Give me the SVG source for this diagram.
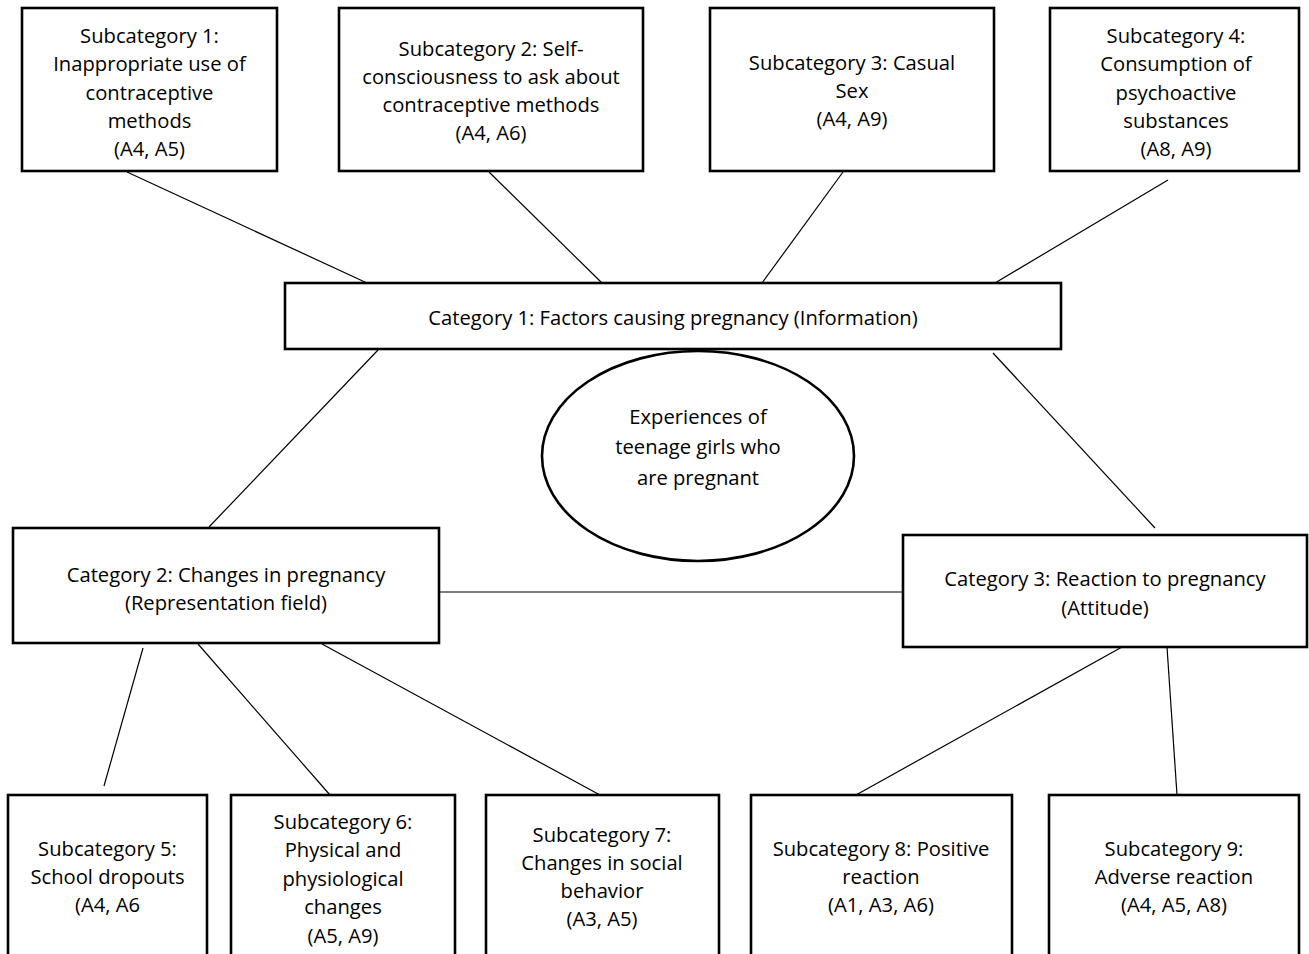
<svg xmlns="http://www.w3.org/2000/svg" width="1309" height="954" viewBox="0 0 1309 954">
<style>
.box{fill:#fff;stroke:#000;stroke-width:2.6}
.ell{fill:#fff;stroke:#000;stroke-width:2.6}
.c line{stroke:#000;stroke-width:1.2}
text{font-family:"Open Sans","Noto Sans","DejaVu Sans",sans-serif;font-size:20.2px;fill:#000;text-anchor:middle}
</style>
<rect width="1309" height="954" fill="#fff"/>
<g class="c" id="connectors">
<line x1="127" y1="172" x2="367" y2="283"/>
<line x1="489" y1="172" x2="602" y2="283"/>
<line x1="843" y1="172" x2="762" y2="283"/>
<line x1="1168" y1="180" x2="995" y2="283"/>
<line x1="378" y1="350" x2="209" y2="527"/>
<line x1="993" y1="353" x2="1155" y2="528"/>
<line x1="439" y1="592" x2="903" y2="592"/>
<line x1="143" y1="648" x2="104" y2="786"/>
<line x1="198" y1="644" x2="330" y2="795"/>
<line x1="322" y1="644" x2="600" y2="795"/>
<line x1="1122" y1="647" x2="856" y2="795"/>
<line x1="1167" y1="647" x2="1177" y2="795"/>
</g>
<g id="sub1">
<rect class="box" x="22" y="8" width="255" height="163"/>
<text><tspan x="149.5" y="43">Subcategory 1:</tspan><tspan x="149.5" y="71">Inappropriate use of</tspan><tspan x="149.5" y="100">contraceptive</tspan><tspan x="149.5" y="128">methods</tspan><tspan x="149.5" y="156">(A4, A5)</tspan></text>
</g>
<g id="sub2">
<rect class="box" x="339" y="8" width="304" height="163"/>
<text><tspan x="491" y="56">Subcategory 2: Self-</tspan><tspan x="491" y="84">consciousness to ask about</tspan><tspan x="491" y="112">contraceptive methods</tspan><tspan x="491" y="140">(A4, A6)</tspan></text>
</g>
<g id="sub3">
<rect class="box" x="710" y="8" width="284" height="163"/>
<text><tspan x="852" y="70">Subcategory 3: Casual</tspan><tspan x="852" y="98">Sex</tspan><tspan x="852" y="126">(A4, A9)</tspan></text>
</g>
<g id="sub4">
<rect class="box" x="1050" y="8" width="249" height="163"/>
<text><tspan x="1176" y="43">Subcategory 4:</tspan><tspan x="1176" y="71">Consumption of</tspan><tspan x="1176" y="100">psychoactive</tspan><tspan x="1176" y="128">substances</tspan><tspan x="1176" y="156">(A8, A9)</tspan></text>
</g>
<g id="cat1">
<rect class="box" x="285" y="283" width="776" height="66"/>
<text x="673" y="325">Category 1: Factors causing pregnancy (Information)</text>
</g>
<g id="center">
<ellipse class="ell" cx="698" cy="456" rx="156" ry="105"/>
<text><tspan x="698" y="424">Experiences of</tspan><tspan x="698" y="454">teenage girls who</tspan><tspan x="698" y="485">are pregnant</tspan></text>
</g>
<g id="cat2">
<rect class="box" x="13" y="528" width="426" height="115"/>
<text><tspan x="226" y="582">Category 2: Changes in pregnancy</tspan><tspan x="226" y="610">(Representation field)</tspan></text>
</g>
<g id="cat3">
<rect class="box" x="903" y="535" width="404" height="112"/>
<text><tspan x="1105" y="586">Category 3: Reaction to pregnancy</tspan><tspan x="1105" y="615">(Attitude)</tspan></text>
</g>
<g id="sub5">
<rect class="box" x="8" y="795" width="199" height="180"/>
<text><tspan x="107.5" y="856">Subcategory 5:</tspan><tspan x="107.5" y="884">School dropouts</tspan><tspan x="107.5" y="912">(A4, A6</tspan></text>
</g>
<g id="sub6">
<rect class="box" x="231" y="795" width="224" height="180"/>
<text><tspan x="343" y="829">Subcategory 6:</tspan><tspan x="343" y="857">Physical and</tspan><tspan x="343" y="886">physiological</tspan><tspan x="343" y="914">changes</tspan><tspan x="343" y="943">(A5, A9)</tspan></text>
</g>
<g id="sub7">
<rect class="box" x="486" y="795" width="233" height="180"/>
<text><tspan x="602" y="842">Subcategory 7:</tspan><tspan x="602" y="870">Changes in social</tspan><tspan x="602" y="898">behavior</tspan><tspan x="602" y="926">(A3, A5)</tspan></text>
</g>
<g id="sub8">
<rect class="box" x="751" y="795" width="261" height="180"/>
<text><tspan x="881" y="856">Subcategory 8: Positive</tspan><tspan x="881" y="884">reaction</tspan><tspan x="881" y="912">(A1, A3, A6)</tspan></text>
</g>
<g id="sub9">
<rect class="box" x="1049" y="795" width="250" height="180"/>
<text><tspan x="1174" y="856">Subcategory 9:</tspan><tspan x="1174" y="884">Adverse reaction</tspan><tspan x="1174" y="912">(A4, A5, A8)</tspan></text>
</g>
</svg>
